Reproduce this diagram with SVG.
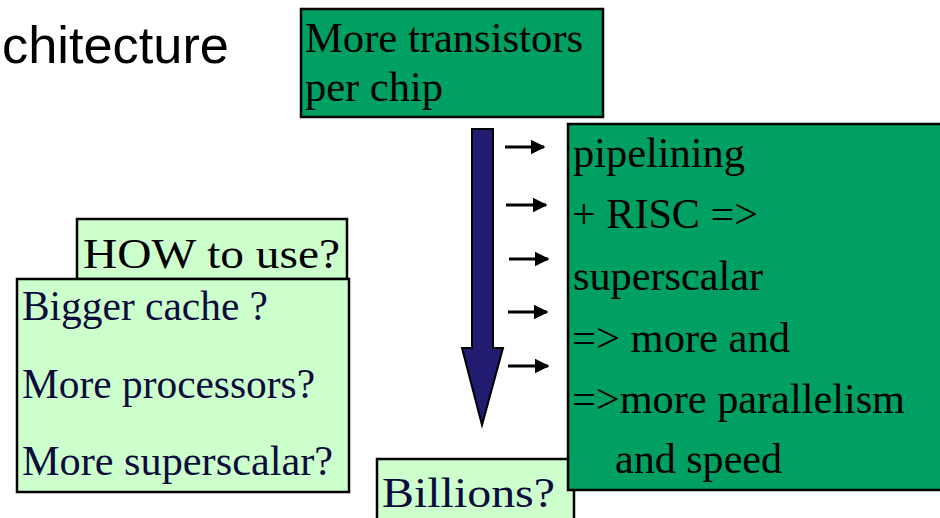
<svg xmlns="http://www.w3.org/2000/svg" width="940" height="518" viewBox="0 0 940 518">
<style>
.g{fill:#009f62;stroke:#000;stroke-width:2.5}
.l{fill:#ccffcc;stroke:#000;stroke-width:2.5}
.t{font-family:"Liberation Serif","Times New Roman",serif;font-size:42px;fill:#000}
.n{font-family:"Liberation Serif","Times New Roman",serif;font-size:42px;fill:#0d0d3d}
.s{stroke:#000;stroke-width:3;fill:none}
</style>
<defs>
<marker id="ah" markerWidth="5" markerHeight="5" refX="4.5" refY="2.5" orient="auto" markerUnits="strokeWidth">
<path d="M0,0 L5,2.5 L0,5 z" fill="#000"/>
</marker>
</defs>
<text x="2" y="63" font-family="'Liberation Sans',Arial,sans-serif" font-size="52" fill="#000" textLength="227" lengthAdjust="spacingAndGlyphs">chitecture</text>
<g id="billions">
<rect class="l" x="377" y="459" width="197" height="70"/>
<text class="n" x="382" y="507" font-size="47" textLength="173" lengthAdjust="spacingAndGlyphs">Billions?</text>
</g>
<g id="transistors">
<rect class="g" x="301" y="9" width="302" height="108"/>
<text class="t" x="305" y="52" textLength="278" lengthAdjust="spacingAndGlyphs">More transistors</text>
<text class="t" x="305" y="101" textLength="138" lengthAdjust="spacingAndGlyphs">per chip</text>
</g>
<g id="how">
<rect class="l" x="77" y="219" width="270" height="60"/>
<text class="t" x="83" y="268" font-size="47" textLength="257" lengthAdjust="spacingAndGlyphs">HOW to use?</text>
</g>
<g id="options">
<rect class="l" x="17" y="279" width="332" height="213"/>
<text class="n" x="22" y="320" textLength="246" lengthAdjust="spacingAndGlyphs">Bigger cache ?</text>
<text class="n" x="22" y="398" textLength="293" lengthAdjust="spacingAndGlyphs">More processors?</text>
<text class="n" x="22" y="475" textLength="311" lengthAdjust="spacingAndGlyphs">More superscalar?</text>
</g>
<g id="results">
<rect class="g" x="568" y="124" width="376" height="366"/>
<text class="t" x="573" y="167" textLength="172" lengthAdjust="spacingAndGlyphs">pipelining</text>
<text class="t" x="572" y="228" textLength="186" lengthAdjust="spacingAndGlyphs">+ RISC =&gt;</text>
<text class="t" x="573" y="290" textLength="190" lengthAdjust="spacingAndGlyphs">superscalar</text>
<text class="t" x="572" y="352" textLength="218" lengthAdjust="spacingAndGlyphs">=&gt; more and</text>
<text class="t" x="572" y="413" textLength="333" lengthAdjust="spacingAndGlyphs">=&gt;more parallelism</text>
<text class="t" x="615" y="473" textLength="167" lengthAdjust="spacingAndGlyphs">and speed</text>
</g>
<g id="connectors">
<path d="M472,129 H493 V348 H503 L482,425 L462,348 H472 Z" fill="#211c70" stroke="#000" stroke-width="2"/>
<line class="s" x1="505" y1="147" x2="544" y2="147" marker-end="url(#ah)"/>
<line class="s" x1="506" y1="205" x2="546" y2="205" marker-end="url(#ah)"/>
<line class="s" x1="509" y1="259" x2="548" y2="259" marker-end="url(#ah)"/>
<line class="s" x1="508" y1="312" x2="547" y2="312" marker-end="url(#ah)"/>
<line class="s" x1="508" y1="366" x2="548" y2="366" marker-end="url(#ah)"/>
</g>
</svg>
